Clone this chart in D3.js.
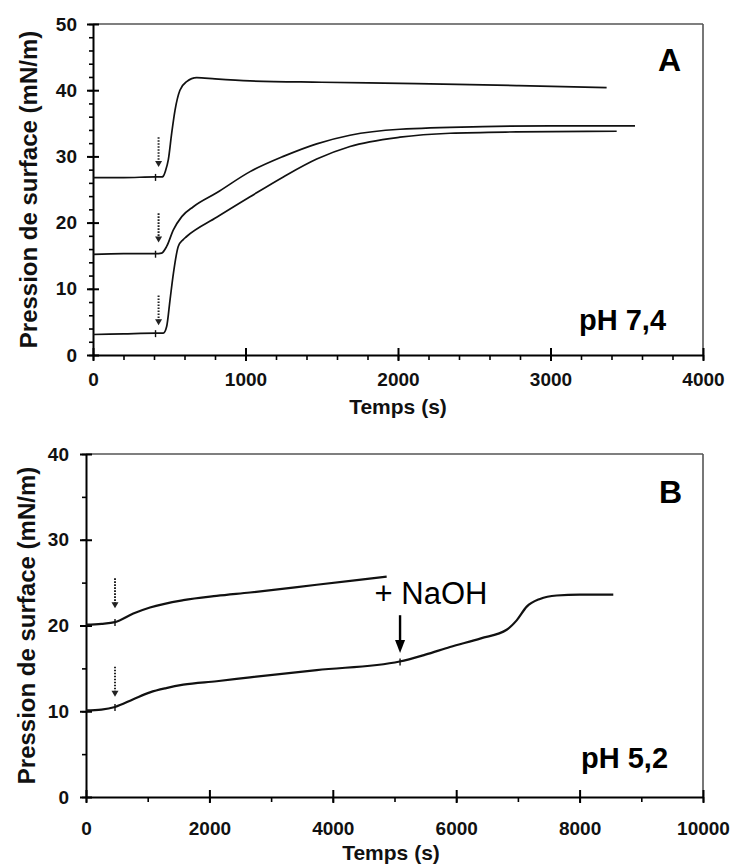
<!DOCTYPE html>
<html><head><meta charset="utf-8">
<script src="https://cdn.jsdelivr.net/npm/d3@7"></script>
<style>
body{margin:0;background:#fff}
svg{display:block}
text{font-family:"Liberation Sans",Arial,Helvetica,sans-serif}
</style>
</head><body>
<svg id="chart" width="732" height="864"></svg>
<script>
// ---------- Panel A data (pH 7,4) ----------
const aTimeTop = [0, 200, 410, 450, 461, 475, 494, 516, 538, 570, 614, 680, 800, 1030, 1500, 2122, 2778, 3368];
const aValTop  = [26.8, 26.8, 26.9, 26.9, 27.0, 27.8, 29.5, 33.5, 37.0, 40.0, 41.3, 41.9, 41.7, 41.4, 41.2, 41.0, 40.7, 40.4];
const aTimeMid = [0, 200, 410, 450, 483, 527, 582, 658, 811, 1030, 1248, 1467, 1685, 2013, 2557, 3000, 3554];
const aValMid  = [15.2, 15.3, 15.3, 15.4, 16.4, 18.9, 20.9, 22.4, 24.5, 27.7, 30.0, 31.9, 33.2, 34.1, 34.5, 34.6, 34.6];
const aTimeLow = [0, 200, 410, 461, 483, 505, 527, 559, 590, 614, 811, 1030, 1248, 1467, 1685, 2013, 2341, 2778, 3434];
const aValLow  = [3.1, 3.2, 3.3, 3.3, 4.3, 8.3, 12.3, 16.4, 17.4, 17.9, 20.8, 23.9, 26.9, 29.6, 31.5, 32.9, 33.5, 33.7, 33.8];
const aArrowTime = 430;
const aArrowFrom = [32.9, 21.4, 9.0];
const aArrowTo   = [28.4, 17.0, 4.5];
const aMarkTime = 410;
const aMarkVals = [26.9, 15.3, 3.3];
const aXTicks = [0, 1000, 2000, 3000, 4000];
const aYTicks = [0, 10, 20, 30, 40, 50];

// ---------- Panel B data (pH 5,2) ----------
const bTimeTop = [0, 250, 470, 767, 1037, 1577, 2117, 2658, 3739, 4873];
const bValTop  = [20.1, 20.2, 20.4, 21.4, 22.1, 22.95, 23.45, 23.85, 24.75, 25.7];
const bTimeLow = [0, 250, 470, 767, 1037, 1300, 1577, 2117, 2658, 3739, 5084, 5500, 5900, 6400, 6818, 6980, 7143, 7358, 7628, 8000, 8546];
const bValLow  = [10.1, 10.2, 10.5, 11.4, 12.2, 12.7, 13.1, 13.5, 13.95, 14.8, 15.8, 16.6, 17.5, 18.5, 19.5, 20.6, 22.2, 23.1, 23.5, 23.6, 23.6];
const bArrowTime = 470;
const bArrowFrom = [25.5, 15.2];
const bArrowTo   = [22.0, 11.7];
const bMarkVals = [20.4, 10.5];
const naohTime = 5090;
const naohFrom = 21.2, naohTo = 16.8, naohCurveVal = 15.8;
const bXTicks = [0, 2000, 4000, 6000, 8000, 10000];
const bYTicks = [0, 10, 20, 30, 40];

const svg = d3.select("#chart");
svg.append("rect").attr("width", 732).attr("height", 864).attr("fill", "#fff");

function zip(t, v) { return t.map((d, i) => [d, v[i]]); }

function panel(cfg) {
  const g = svg.append("g");
  const x = d3.scaleLinear().domain(cfg.xDomain).range([cfg.left, cfg.right]);
  const y = d3.scaleLinear().domain(cfg.yDomain).range([cfg.bottom, cfg.top]);

  // frame (top & right)
  g.append("line").attr("x1", cfg.left).attr("x2", cfg.right).attr("y1", cfg.top).attr("y2", cfg.top)
    .attr("stroke", "#555").attr("stroke-width", 1.6);
  g.append("line").attr("x1", cfg.right).attr("x2", cfg.right).attr("y1", cfg.top).attr("y2", cfg.bottom)
    .attr("stroke", "#555").attr("stroke-width", 1.6);

  // minor ticks
  g.append("g").attr("transform", `translate(0,${cfg.bottom})`)
    .call(d3.axisBottom(x).tickValues(d3.range(cfg.xDomain[0], cfg.xDomain[1] + 1, cfg.xMinor)).tickSize(5).tickFormat(""))
    .call(s => s.select(".domain").remove())
    .selectAll("line").attr("stroke", "#000").attr("stroke-width", 1.6);
  g.append("g").attr("transform", `translate(${cfg.left},0)`)
    .call(d3.axisLeft(y).tickValues(d3.range(cfg.yDomain[0], cfg.yDomain[1] + 0.1, cfg.yMinor)).tickSize(4).tickFormat(""))
    .call(s => s.select(".domain").remove())
    .selectAll("line").attr("stroke", "#000").attr("stroke-width", 1.6);

  // major x axis
  const gx = g.append("g").attr("transform", `translate(0,${cfg.bottom})`)
    .call(d3.axisBottom(x).tickValues(cfg.xTicks).tickSize(0).tickPadding(cfg.xPad).tickFormat(d3.format("d")));
  gx.select(".domain").attr("stroke", "#000").attr("stroke-width", 2);
  gx.selectAll(".tick line").attr("y1", -7).attr("y2", 6).attr("stroke", "#000").attr("stroke-width", 2);
  gx.selectAll("text").attr("font-size", 19).attr("font-weight", "bold").attr("fill", "#111")
    .attr("font-family", "Liberation Sans, Arial, sans-serif");

  // major y axis
  const gy = g.append("g").attr("transform", `translate(${cfg.left},0)`)
    .call(d3.axisLeft(y).tickValues(cfg.yTicks).tickSize(0).tickPadding(cfg.yPad));
  gy.select(".domain").attr("stroke", "#000").attr("stroke-width", 2);
  gy.selectAll(".tick line").attr("x1", -6).attr("x2", 6).attr("stroke", "#000").attr("stroke-width", 2);
  gy.selectAll("text").attr("font-size", 19).attr("font-weight", "bold").attr("fill", "#111")
    .attr("font-family", "Liberation Sans, Arial, sans-serif");

  // curves
  const line = d3.line().x(d => x(d[0])).y(d => y(d[1])).curve(d3.curveMonotoneX);
  cfg.series.forEach(s => {
    g.append("path").attr("d", line(s)).attr("fill", "none").attr("stroke", "#111")
      .attr("stroke-width", cfg.lineWidth).attr("stroke-linejoin", "round");
  });

  // small injection marks on the curves
  cfg.marks.forEach(m => {
    g.append("line").attr("x1", x(m[0])).attr("x2", x(m[0])).attr("y1", y(m[1]) - 3).attr("y2", y(m[1]) + 4)
      .attr("stroke", "#111").attr("stroke-width", 1.4);
  });

  // dotted arrows
  cfg.arrows.forEach(a => {
    const ax = x(a[0]), y0 = y(a[1]), y1 = y(a[2]);
    g.append("line").attr("x1", ax).attr("x2", ax).attr("y1", y0).attr("y2", y1 - 5)
      .attr("stroke", "#222").attr("stroke-width", 2).attr("stroke-dasharray", "1.6,1.4");
    g.append("path").attr("d", `M${ax - 3.5},${y1 - 6} L${ax + 3.5},${y1 - 6} L${ax},${y1} Z`).attr("fill", "#222");
  });

  // axis titles
  g.append("text").attr("transform", `translate(${cfg.yTitleX},${(cfg.top + cfg.bottom) / 2}) rotate(-90)`)
    .attr("text-anchor", "middle").attr("font-size", 24).attr("font-weight", "bold").attr("fill", "#111")
    .text("Pression de surface (mN/m)");
  g.append("text").attr("x", cfg.xTitleX).attr("y", cfg.xTitleY)
    .attr("text-anchor", "middle").attr("font-size", 21).attr("font-weight", "bold").attr("fill", "#111")
    .text("Temps (s)");

  g.append("text").attr("x", cfg.letterX).attr("y", cfg.letterY).attr("font-size", 32).attr("font-weight", "bold")
    .attr("fill", "#000").text(cfg.letter);
  g.append("text").attr("x", cfg.phX).attr("y", cfg.phY).attr("font-size", 29).attr("font-weight", "bold")
    .attr("fill", "#000").text(cfg.ph);
  return { g, x, y };
}

panel({
  left: 93, right: 703, top: 24, bottom: 355,
  xDomain: [0, 4000], yDomain: [0, 50], xTicks: aXTicks, yTicks: aYTicks, xMinor: 200, yMinor: 2,
  xPad: 18, yPad: 16, lineWidth: 1.7,
  series: [zip(aTimeTop, aValTop), zip(aTimeMid, aValMid), zip(aTimeLow, aValLow)],
  marks: aMarkVals.map(v => [aMarkTime, v]),
  arrows: aArrowFrom.map((f, i) => [aArrowTime, f, aArrowTo[i]]),
  yTitleX: 37, xTitleX: 398, xTitleY: 414,
  letter: "A", letterX: 658, letterY: 71, ph: "pH 7,4", phX: 579, phY: 330
});

const B = panel({
  left: 86, right: 703, top: 454, bottom: 797,
  xDomain: [0, 10000], yDomain: [0, 40], xTicks: bXTicks, yTicks: bYTicks, xMinor: 1000, yMinor: 5,
  xPad: 25, yPad: 17, lineWidth: 2.2,
  series: [zip(bTimeTop, bValTop), zip(bTimeLow, bValLow)],
  marks: bMarkVals.map(v => [bArrowTime, v]).concat([[naohTime, naohCurveVal]]),
  arrows: bArrowFrom.map((f, i) => [bArrowTime, f, bArrowTo[i]]),
  yTitleX: 35, xTitleX: 391, xTitleY: 860,
  letter: "B", letterX: 659, letterY: 503, ph: "pH 5,2", phX: 581, phY: 768
});

// NaOH annotation
const nx = B.x(naohTime), ny0 = B.y(naohFrom), ny1 = B.y(naohTo);
B.g.append("line").attr("x1", nx).attr("x2", nx).attr("y1", ny0).attr("y2", ny1 - 11)
  .attr("stroke", "#000").attr("stroke-width", 2.4);
B.g.append("path").attr("d", `M${nx - 5},${ny1 - 13} L${nx + 5},${ny1 - 13} L${nx},${ny1} Z`).attr("fill", "#000");
B.g.append("text").attr("x", nx + 31).attr("y", B.y(naohFrom) - 11).attr("text-anchor", "middle")
  .attr("font-size", 31).attr("fill", "#000").text("+ NaOH");
</script>
</body></html>
